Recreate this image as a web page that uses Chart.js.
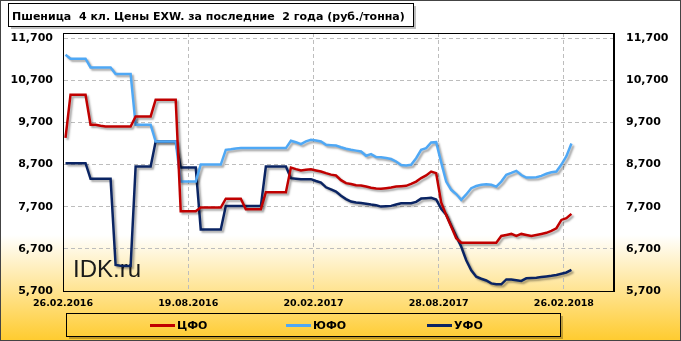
<!DOCTYPE html>
<html>
<head>
<meta charset="utf-8">
<script src="https://cdn.jsdelivr.net/npm/chart.js@4.4.1/dist/chart.umd.min.js"></script>
<style>
  body { margin: 0; background: #fff; }
  canvas { display: block; }
</style>
</head>
<body>
<canvas id="myChart" width="681" height="341"></canvas>
<script>
var titleText = 'Пшеница  4 кл. Цены EXW. за последние  2 года (руб./тонна)';
var xTickLabels = ['26.02.2016', '19.08.2016', '20.02.2017', '28.08.2017', '26.02.2018'];
var xTickPos = [-0.5, 24.5, 49.5, 74.5, 99.5];
var yTicks = [5700, 6700, 7700, 8700, 9700, 10700, 11700];
var seriesNames = ['ЦФО', 'ЮФО', 'УФО'];

// weekly prices, rub/t
var cfo = [9330, 10356, 10356, 10356, 10356, 9643, 9643, 9620, 9603, 9603, 9603, 9603, 9603, 9603,
  9840, 9840, 9840, 9840, 10237, 10237, 10237, 10237, 10237, 7590, 7590, 7590, 7590,
  7680, 7680, 7680, 7680, 7680, 7890, 7890, 7890, 7890, 7640, 7640, 7640, 7640,
  8044, 8044, 8044, 8044, 8044, 8629, 8590, 8558, 8575, 8585, 8560, 8534, 8495, 8460, 8439,
  8330, 8258, 8240, 8210, 8201, 8177, 8150, 8130, 8123, 8139, 8155, 8177, 8185, 8194, 8240,
  8296, 8380, 8440, 8534, 8495, 7800, 7500, 7230, 6950, 6847, 6847, 6847, 6847, 6847, 6847,
  6847, 6847, 7006, 7030, 7054, 7006, 7054, 7030, 7006, 7030, 7054, 7080, 7125, 7189, 7386,
  7427, 7529];
var yufo = [11306, 11210, 11210, 11210, 11210, 11004, 11004, 11004, 11004, 11004,
  10847, 10847, 10847, 10847, 9643, 9643, 9643, 9643, 9246, 9246, 9246, 9246, 9246,
  8296, 8296, 8296, 8296, 8700, 8700, 8700, 8700, 8700, 9049, 9060, 9080,
  9090, 9090, 9090, 9090, 9090, 9090, 9090, 9090, 9090, 9090,
  9263, 9230, 9184, 9250, 9287, 9270, 9246, 9168, 9160, 9150, 9110, 9073, 9050, 9030, 9009,
  8907, 8947, 8876, 8870, 8855, 8830, 8772, 8690, 8677, 8693, 8850, 9049, 9089, 9222, 9230,
  8750, 8296, 8100, 8000, 7861, 7990, 8139, 8190, 8220, 8234, 8220, 8177, 8296, 8455, 8500,
  8550, 8450, 8391, 8391, 8400, 8431, 8480, 8515, 8534, 8700, 8900, 9200];
var ufo = [8733, 8733, 8733, 8733, 8733, 8360, 8360, 8360, 8360, 8360, 6318, 6300, 6294, 6294,
  8653, 8653, 8653, 8653, 9246, 9246, 9246, 9246, 9246, 8630, 8630, 8630, 8630,
  7160, 7160, 7160, 7160, 7160, 7715, 7715, 7715, 7715, 7715, 7715, 7715, 7715,
  8653, 8653, 8653, 8653, 8653, 8377, 8365, 8353, 8350, 8353, 8310, 8270, 8160, 8110, 8060,
  7960, 7880, 7821, 7800, 7785, 7770, 7750, 7735, 7702, 7710, 7719, 7750, 7783, 7783, 7783,
  7814, 7892, 7900, 7909, 7870, 7650, 7510, 7250, 7000, 6750, 6430, 6190, 6040, 5990, 5950,
  5880, 5859, 5859, 5975, 5970, 5955, 5940, 6002, 6010, 6016, 6030, 6045, 6060, 6080, 6110,
  6140, 6199];

var colors = ['#C00000', '#4FA8F5', '#0A2463'];

function toPoints(arr) {
    return arr.map((v, i) => ({ x: i, y: v }));
}

function setTicks(values) {
    return function (scale) {
        scale.ticks = values.map(v => ({ value: v }));
    };
}

// background, title box, watermark, legend, frame
var decor = {
    id: 'decor',
    beforeDraw: function (chart) {
        var ctx = chart.ctx;
        var w = chart.width, h = chart.height;
        ctx.save();
        var g = ctx.createLinearGradient(0, 235, 0, h);
        g.addColorStop(0, '#FFFFFF');
        g.addColorStop(1, '#FFCB2E');
        ctx.fillStyle = '#FFFFFF';
        ctx.fillRect(0, 0, w, h);
        ctx.fillStyle = g;
        ctx.fillRect(0, 235, w, h - 235);

        // title box
        ctx.fillStyle = 'rgba(0,0,0,0.25)';
        ctx.fillRect(11, 6, 405, 23);
        ctx.fillStyle = '#FFFFFF';
        ctx.fillRect(8, 3, 405, 23);
        ctx.strokeStyle = '#000';
        ctx.lineWidth = 1;
        ctx.strokeRect(8.5, 3.5, 405, 23);
        var size = 12;
        ctx.font = 'bold ' + size + 'px "DejaVu Sans"';
        size = size * 393 / ctx.measureText(titleText).width;
        ctx.font = 'bold ' + size.toFixed(2) + 'px "DejaVu Sans"';
        ctx.fillStyle = '#000';
        ctx.textBaseline = 'alphabetic';
        ctx.fillText(titleText, 12, 20);
        ctx.restore();
    },
    beforeDatasetsDraw: function (chart) {
        var ctx = chart.ctx;
        ctx.save();
        ctx.font = '24px "Liberation Sans"';
        ctx.fillStyle = '#1A1A1A';
        ctx.fillText('IDK.ru', 73, 277);
        ctx.restore();
    },
    beforeDatasetDraw: function (chart) {
        var ctx = chart.ctx;
        ctx.save();
        ctx.shadowColor = 'rgba(0,0,0,0.35)';
        ctx.shadowBlur = 2;
        ctx.shadowOffsetX = 2;
        ctx.shadowOffsetY = 2;
    },
    afterDatasetDraw: function (chart) {
        chart.ctx.restore();
    },
    afterDraw: function (chart) {
        var ctx = chart.ctx;
        var a = chart.chartArea;
        ctx.save();
        ctx.strokeStyle = '#000';
        ctx.lineWidth = 1;
        ctx.strokeRect(Math.round(a.left) + 0.5, Math.round(a.top) + 0.5,
            Math.round(a.right - a.left) - 1, Math.round(a.bottom - a.top));

        // legend box
        ctx.fillStyle = 'rgba(0,0,0,0.25)';
        ctx.fillRect(69, 316, 494, 23);
        var g = ctx.createLinearGradient(0, 235, 0, chart.height);
        g.addColorStop(0, '#FFFFFF');
        g.addColorStop(1, '#FFCB2E');
        ctx.fillStyle = g;
        ctx.fillRect(66, 313, 494, 23);
        ctx.strokeStyle = '#000';
        ctx.strokeRect(66.5, 313.5, 494, 23);

        var lx = [150, 286, 427];
        ctx.font = 'bold 11px "DejaVu Sans"';
        ctx.textBaseline = 'middle';
        chart.data.datasets.forEach(function (ds, i) {
            ctx.strokeStyle = ds.borderColor;
            ctx.lineWidth = 3;
            ctx.beginPath();
            ctx.moveTo(lx[i], 325.5);
            ctx.lineTo(lx[i] + 25, 325.5);
            ctx.stroke();
            ctx.fillStyle = '#000';
            ctx.fillText(ds.label, lx[i] + 27, 326);
        });

        ctx.strokeStyle = '#444';
        ctx.lineWidth = 1;
        ctx.strokeRect(0.5, 0.5, chart.width - 1, chart.height - 1);
        ctx.restore();
    }
};

function createChart() {
    var ctx = document.getElementById('myChart').getContext('2d');
    var tickFont = { family: '"DejaVu Sans"', size: 11, weight: 'bold' };
    new Chart(ctx, {
        type: 'line',
        data: {
            datasets: [cfo, yufo, ufo].map((arr, i) => ({
                label: seriesNames[i],
                data: toPoints(arr),
                borderColor: colors[i],
                borderWidth: 2.5,
                pointRadius: 0,
                tension: 0,
                fill: false
            }))
        },
        options: {
            responsive: false,
            animation: false,
            layout: { padding: { top: 33 } },
            plugins: {
                legend: { display: false },
                tooltip: { enabled: false }
            },
            scales: {
                x: {
                    type: 'linear',
                    min: -0.5,
                    max: 109.5,
                    afterBuildTicks: setTicks(xTickPos),
                    afterFit: function (s) { s.height = 50; },
                    grid: { color: '#BDBDBD', drawTicks: false },
                    border: { color: '#000', dash: [4, 3] },
                    ticks: {
                        autoSkip: false,
                        maxRotation: 0,
                        padding: 7,
                        color: '#000',
                        font: { family: '"DejaVu Sans"', size: 9.5, weight: 'bold' },
                        callback: function (v) {
                            var k = xTickPos.indexOf(v);
                            return k < 0 ? '' : xTickLabels[k];
                        }
                    }
                },
                y: {
                    position: 'left',
                    min: 5700,
                    max: 11820,
                    afterBuildTicks: setTicks(yTicks),
                    afterFit: function (s) { s.width = 63; },
                    grid: { color: '#BDBDBD', drawTicks: false },
                    border: { color: '#000', dash: [4, 3] },
                    ticks: { padding: 10, color: '#000', font: tickFont }
                },
                y2: {
                    position: 'right',
                    min: 5700,
                    max: 11820,
                    afterBuildTicks: setTicks(yTicks),
                    afterFit: function (s) { s.width = 67; },
                    grid: { display: false, drawTicks: false },
                    border: { color: '#000' },
                    ticks: { padding: 12, color: '#000', font: tickFont }
                }
            }
        },
        plugins: [decor]
    });
}

createChart();
</script>
</body>
</html>
